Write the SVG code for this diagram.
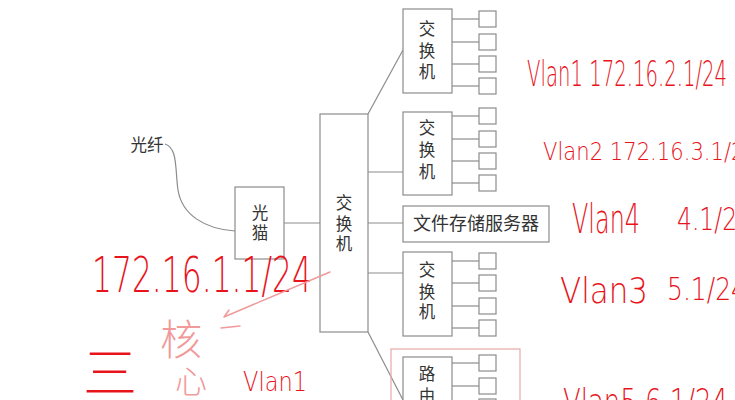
<svg xmlns="http://www.w3.org/2000/svg" width="735" height="400" viewBox="0 0 735 400">
<style>
.box{fill:#fff;stroke:#8c8c8c;stroke-width:1.2}
.port{fill:#fff;stroke:#8c8c8c;stroke-width:1.2}
.ln{fill:none;stroke:#8c8c8c;stroke-width:1.2}
.t{font-family:"Noto Sans CJK SC","Liberation Sans",sans-serif;font-size:16.5px;fill:#333;text-anchor:middle}
.hw{font-family:"DejaVu Sans","Liberation Sans",sans-serif;font-weight:200;fill:#e8141c}
.pk{font-family:"Noto Sans CJK SC",sans-serif;font-weight:300;fill:#f09a9a}
.red{font-family:"Noto Sans CJK SC",sans-serif;font-weight:300;fill:#e8141c}
</style>
<rect width="735" height="400" fill="#fff"/>
<g id="connectors">
<path class="ln" d="M165,144 C178,148 175,170 178,190 C182,215 205,229 235,231"/>
<line class="ln" x1="284" y1="223" x2="320" y2="223"/>
<line class="ln" x1="368" y1="114" x2="403" y2="50"/>
<line class="ln" x1="368" y1="172" x2="403" y2="172"/>
<line class="ln" x1="368" y1="223" x2="403" y2="223"/>
<line class="ln" x1="368" y1="273" x2="403" y2="273"/>
<line class="ln" x1="368" y1="332" x2="403" y2="400"/>
<g>
<line class="ln" x1="452" y1="19" x2="479" y2="19"/>
<line class="ln" x1="452" y1="42" x2="479" y2="42"/>
<line class="ln" x1="452" y1="64" x2="479" y2="64"/>
<line class="ln" x1="452" y1="86" x2="479" y2="86"/>
<line class="ln" x1="452" y1="116" x2="479" y2="116"/>
<line class="ln" x1="452" y1="139" x2="479" y2="139"/>
<line class="ln" x1="452" y1="161" x2="479" y2="161"/>
<line class="ln" x1="452" y1="183" x2="479" y2="183"/>
<line class="ln" x1="452" y1="261" x2="479" y2="261"/>
<line class="ln" x1="452" y1="283" x2="479" y2="283"/>
<line class="ln" x1="452" y1="306" x2="479" y2="306"/>
<line class="ln" x1="452" y1="328" x2="479" y2="328"/>
<line class="ln" x1="452" y1="363" x2="479" y2="363"/>
<line class="ln" x1="452" y1="386" x2="479" y2="386"/>
</g>
</g>
<g id="fiber-label"><text class="t" x="147" y="151">光纤</text></g>
<g id="modem">
<rect class="box" x="235" y="187" width="49" height="72"/>
<text class="t" x="260" y="219">光</text>
<text class="t" x="260" y="239">猫</text>
</g>
<g id="core-switch">
<rect class="box" x="320" y="114" width="48" height="218"/>
<text class="t" x="344" y="209">交</text>
<text class="t" x="344" y="230">换</text>
<text class="t" x="344" y="250">机</text>
</g>
<g id="switch1">
<rect class="box" x="403" y="9" width="49" height="84"/>
<text class="t" x="427" y="35">交</text>
<text class="t" x="427" y="57">换</text>
<text class="t" x="427" y="78">机</text>
<rect class="port" x="479" y="11" width="17" height="16"/>
<rect class="port" x="479" y="34" width="17" height="16"/>
<rect class="port" x="479" y="56" width="17" height="16"/>
<rect class="port" x="479" y="78" width="17" height="16"/>
</g>
<g id="switch2">
<rect class="box" x="403" y="112" width="49" height="83"/>
<text class="t" x="427" y="134">交</text>
<text class="t" x="427" y="156">换</text>
<text class="t" x="427" y="178">机</text>
<rect class="port" x="479" y="108" width="17" height="16"/>
<rect class="port" x="479" y="131" width="17" height="16"/>
<rect class="port" x="479" y="153" width="17" height="16"/>
<rect class="port" x="479" y="175" width="17" height="16"/>
</g>
<g id="file-server">
<rect class="box" x="403" y="206" width="146" height="36"/>
<text class="t" x="476" y="230" style="font-size:18px">文件存储服务器</text>
</g>
<g id="switch3">
<rect class="box" x="403" y="252" width="49" height="84"/>
<text class="t" x="427" y="276">交</text>
<text class="t" x="427" y="298">换</text>
<text class="t" x="427" y="318">机</text>
<rect class="port" x="479" y="253" width="17" height="16"/>
<rect class="port" x="479" y="275" width="17" height="16"/>
<rect class="port" x="479" y="298" width="17" height="16"/>
<rect class="port" x="479" y="320" width="17" height="16"/>
</g>
<g id="router">
<rect x="391" y="349" width="129" height="70" fill="none" stroke="#e8a8a8" stroke-width="1.2"/>
<rect class="box" x="403" y="357" width="49" height="60"/>
<text class="t" x="427" y="380">路</text>
<text class="t" x="427" y="402">由</text>
<rect class="port" x="479" y="355" width="17" height="16"/>
<rect class="port" x="479" y="378" width="17" height="16"/>
<rect class="port" x="479" y="399" width="17" height="16"/>
</g>
<g id="annotations">
<text class="hw" x="527" y="86" font-size="36" textLength="200" lengthAdjust="spacingAndGlyphs">Vlan1 172.16.2.1/24</text>
<text class="hw" x="543" y="160" font-size="24" textLength="215" lengthAdjust="spacingAndGlyphs">Vlan2 172.16.3.1/24</text>
<text class="hw" x="572" y="233" font-size="40" textLength="68" lengthAdjust="spacingAndGlyphs">Vlan4</text>
<text class="hw" x="677" y="230" font-size="32" textLength="75" lengthAdjust="spacingAndGlyphs">4.1/24</text>
<text class="hw" x="560" y="303" font-size="36" textLength="88" lengthAdjust="spacingAndGlyphs">Vlan3</text>
<text class="hw" x="667" y="300" font-size="32" textLength="80" lengthAdjust="spacingAndGlyphs">5.1/24</text>
<text class="hw" x="563" y="414" font-size="36" textLength="165" lengthAdjust="spacingAndGlyphs">Vlan5 6.1/24</text>
<text class="hw" x="92" y="292" font-size="50" textLength="220" lengthAdjust="spacingAndGlyphs">172.16.1.1/24</text>
<path d="M330,272 L224,317 M224,317 L229,310 M221,328 L240,326" fill="none" stroke="#f09a9a" stroke-width="1.5" stroke-linecap="round"/>
<text class="pk" x="160" y="355" font-size="42">核</text>
<text class="pk" x="175" y="393" font-size="32">心</text>
<text class="red" x="83" y="393" font-size="54" textLength="54" lengthAdjust="spacingAndGlyphs">三</text>
<text class="hw" x="243" y="391" font-size="26" textLength="64" lengthAdjust="spacingAndGlyphs">Vlan1</text>
</g>
</svg>
